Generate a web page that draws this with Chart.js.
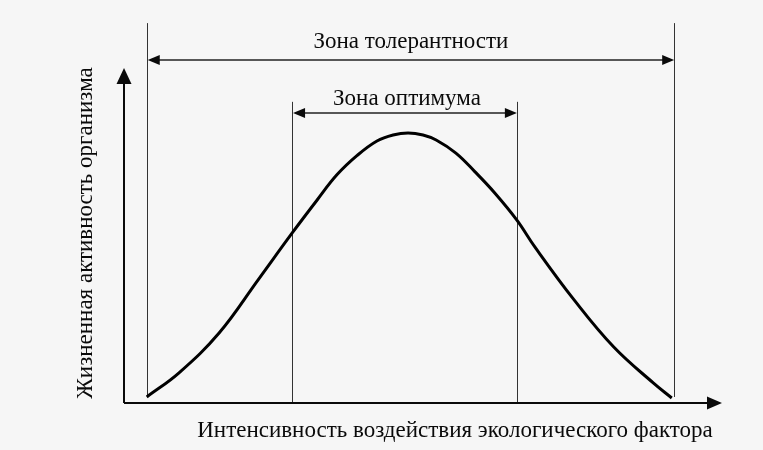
<!DOCTYPE html>
<html>
<head>
<meta charset="utf-8">
<script src="https://cdn.jsdelivr.net/npm/chart.js@4"></script>
<style>
  html, body { margin: 0; padding: 0; background: #f6f6f6; }
  #wrap { width: 763px; height: 450px; position: relative; }
  #probe { position: absolute; left: -1000px; top: 0; font-family: "Liberation Serif", "Times New Roman", serif; font-size: 23px; }
</style>
</head>
<body>
<div id="probe">Зона толерантности</div>
<div id="wrap"><canvas id="c"></canvas></div>
<script>
// ---- data (abstract units: x 0..100 intensity, y 0..100 activity) ----
const curveX = [3.8, 9.2, 15.9, 22.4, 28.1, 32.3, 35.6, 39.0, 42.3, 45.0, 47.5, 50.0, 52.2, 55.5, 58.7, 62.0, 65.7, 68.7, 75.3, 81.9, 88.5, 91.6];
const curveY = [1.8, 9.0, 20.9, 36.7, 50.7, 60.6, 68.1, 73.9, 78.2, 80.0, 80.6, 80.0, 78.5, 74.6, 69.0, 62.7, 54.6, 46.6, 30.7, 16.7, 6.0, 1.5];
const toleranceZone = [3.8, 92.0];
const optimumZone = [28.1, 65.7];
const toleranceLabel = "Зона толерантности";
const optimumLabel = "Зона оптимума";
const xTitle = "Интенсивность воздействия экологического фактора";
const yTitle = "Жизненная активность организма";

const points = curveX.map((x, i) => ({ x: x, y: curveY[i] }));

const FONT = '23px "Liberation Serif", "Times New Roman", serif';
const INK = '#0a0a0a';

function arrowHead(ctx, x, y, dir, len, half) {
  ctx.beginPath();
  if (dir === 'up') { ctx.moveTo(x, y); ctx.lineTo(x - half, y + len); ctx.lineTo(x + half, y + len); }
  else if (dir === 'right') { ctx.moveTo(x, y); ctx.lineTo(x - len, y - half); ctx.lineTo(x - len, y + half); }
  else if (dir === 'left') { ctx.moveTo(x, y); ctx.lineTo(x + len, y - half); ctx.lineTo(x + len, y + half); }
  ctx.closePath();
  ctx.fill();
}

function doubleArrow(ctx, x1, x2, y) {
  ctx.beginPath();
  ctx.moveTo(x1 + 10, y); ctx.lineTo(x2 - 10, y);
  ctx.stroke();
  arrowHead(ctx, x1, y, 'left', 12, 5);
  arrowHead(ctx, x2, y, 'right', 12, 5);
}

const decor = {
  id: 'decor',
  beforeDatasetsDraw(chart) {
    const { ctx, scales: { x, y } } = chart;
    ctx.save();
    ctx.fillStyle = INK;

    // vertical zone lines
    ctx.lineWidth = 1;
    ctx.strokeStyle = '#333';
    toleranceZone.forEach(v => {
      const px = Math.round(x.getPixelForValue(v)) + 0.5;
      ctx.beginPath();
      ctx.moveTo(px, y.getPixelForValue(113.4));
      ctx.lineTo(px, y.getPixelForValue(1.8));
      ctx.stroke();
    });
    optimumZone.forEach(v => {
      const px = Math.round(x.getPixelForValue(v)) + 0.5;
      ctx.beginPath();
      ctx.moveTo(px, y.getPixelForValue(89.9));
      ctx.lineTo(px, y.getPixelForValue(0));
      ctx.stroke();
    });

    // axes with arrows
    ctx.strokeStyle = INK;
    ctx.lineWidth = 2;
    const ox = x.getPixelForValue(0), oy = y.getPixelForValue(0);
    const topY = y.getPixelForValue(100), rightX = x.getPixelForValue(100);
    ctx.beginPath();
    ctx.moveTo(ox, oy); ctx.lineTo(ox, topY + 12);
    ctx.moveTo(ox, oy); ctx.lineTo(rightX - 12, oy);
    ctx.stroke();
    arrowHead(ctx, ox, topY, 'up', 16, 7.5);
    arrowHead(ctx, rightX, oy, 'right', 15, 6.5);

    // zone double arrows
    ctx.lineWidth = 1.5;
    ctx.strokeStyle = '#222';
    const t1 = x.getPixelForValue(toleranceZone[0]) + 1, t2 = x.getPixelForValue(toleranceZone[1]);
    doubleArrow(ctx, t1, t2, y.getPixelForValue(102.4));
    const o1 = x.getPixelForValue(optimumZone[0]) + 1, o2 = x.getPixelForValue(optimumZone[1]);
    doubleArrow(ctx, o1, o2, y.getPixelForValue(86.6));

    // labels
    ctx.font = FONT;
    ctx.fillStyle = INK;
    ctx.textAlign = 'center';
    ctx.textBaseline = 'alphabetic';
    ctx.fillText(toleranceLabel, (t1 + t2) / 2, 48);
    ctx.fillText(optimumLabel, (o1 + o2) / 2 + 2, 105);
    ctx.fillText(xTitle, 455, 437);
    ctx.translate(92, 233);
    ctx.rotate(-Math.PI / 2);
    ctx.fillText(yTitle, 0, 0);
    ctx.restore();
  }
};

function build() {
  new Chart(document.getElementById('c'), {
    type: 'line',
    data: {
      datasets: [{
        data: points,
        borderColor: '#000',
        borderWidth: 3,
        pointRadius: 0,
        tension: 0.4,
        fill: false,
        clip: false
      }]
    },
    options: {
      responsive: true,
      maintainAspectRatio: false,
      animation: false,
      layout: { padding: { left: 124, right: 41, top: 68, bottom: 47 } },
      plugins: { legend: { display: false }, tooltip: { enabled: false } },
      scales: {
        x: { type: 'linear', min: 0, max: 100, display: false },
        y: { type: 'linear', min: 0, max: 100, display: false }
      }
    },
    plugins: [decor]
  });
}

if (document.fonts && document.fonts.load) {
  document.fonts.load(FONT, 'Зона').then(build, build);
} else {
  build();
}
</script>
</body>
</html>
